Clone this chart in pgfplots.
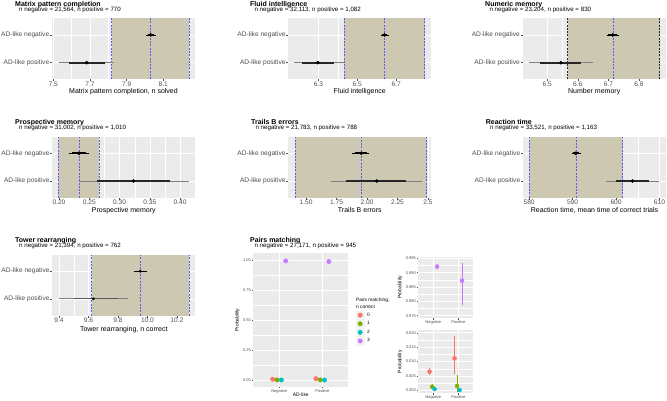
\documentclass[border=0pt]{standalone}
\usepackage{fontspec}
\setmainfont{Liberation Sans}
\usepackage{pgfplots}
\pgfplotsset{compat=1.18}
\definecolor{panelbg}{HTML}{EBEBEB}
\definecolor{tanc}{HTML}{CDC8B1}
\definecolor{dashblue}{HTML}{5B5BF5}
\definecolor{tickgrey}{HTML}{4D4D4D}
\definecolor{c0}{HTML}{F8766D}
\definecolor{c1}{HTML}{7CAE00}
\definecolor{c2}{HTML}{00BFC4}
\definecolor{c3}{HTML}{C77CFF}
\definecolor{legkey}{HTML}{F2F2F2}

\pgfplotsset{
 gg/.style={
   scale only axis,
   axis background/.style={fill=panelbg},
   axis line style={draw=none},
   tick pos=left, tick align=outside,
   major tick length=2pt, minor tick length=0pt,
   tick style={tickgrey, line width=0.4pt},
   grid=both,
   major grid style={draw=white, line width=0.6pt},
   minor grid style={draw=white, line width=0.3pt},
   clip=true,
   scaled ticks=false,
 },
 forest/.style={gg,
   width=143pt, height=61pt,
   ymin=0.4, ymax=2.6, ytick={1,2},
   yticklabels={AD-like positive,AD-like negative},
   minor x tick num=1,
   tick label style={font=\fontsize{6.6}{7}\selectfont, text=tickgrey},
   xticklabel style={inner sep=0.4pt},
   yticklabel style={inner sep=0.6pt},
   xlabel style={font=\fontsize{7}{8}\selectfont, at={(axis description cs:0.5,-0.205)}, anchor=center},
 },
 band/.style={fill=tanc, draw=none},
 vl/.style={dashblue, line width=0.6pt, dash pattern=on 2pt off 1.3pt},
 vlk/.style={black!85, line width=0.6pt, dash pattern=on 2pt off 1.3pt},
 thinp/.style={black!50, line width=0.8pt},
 thickp/.style={black!85, line width=1.7pt},
 thinn/.style={black, line width=0.8pt},
 thickn/.style={black, line width=1.7pt},
 dot/.style={only marks, mark=*, mark size=1.6pt, black},
 pairs/.style={gg,
   xmin=0.4, xmax=2.6, xtick={1,2}, xticklabels={Negative,Positive},
   minor y tick num=1, major tick length=1.5pt,
   tick label style={font=\fontsize{4}{4.5}\selectfont, text=tickgrey},
   xticklabel style={inner sep=0.8pt},
   yticklabel style={inner sep=0.8pt},
   label style={font=\fontsize{4.9}{5.5}\selectfont},
 },
}
\newcommand\ttl[3]{\node[anchor=base west, inner sep=0pt, font=\bfseries\fontsize{7}{8}\selectfont] at (#1pt,-#2pt) {#3};}
\newcommand\sub[3]{\node[anchor=base west, inner sep=0pt, font=\fontsize{6.2}{7}\selectfont] at (#1pt,-#2pt) {#3};}

\begin{document}
\begin{tikzpicture}
\useasboundingbox (0,0) rectangle (667pt,-400pt);

% ---------------- Panel 1: Matrix pattern completion
\ttl{15}{6.0}{Matrix pattern completion}
\sub{19}{11.3}{n negative = 21,564, n positive = 770}
\begin{axis}[forest, at={(52pt,-18.3pt)}, anchor=north west,
  xmin=7.493, xmax=8.273, xtick={7.5,7.7,7.9,8.1}, xticklabels={7.5,7.7,7.9,8.1},
  xlabel={Matrix pattern completion, n solved}]
\addplot[band] coordinates {(7.819,2.6) (8.240,2.6)} \closedcycle;
\addplot[vl] coordinates {(7.819,0.4) (7.819,2.6)};
\addplot[vl] coordinates {(8.031,0.4) (8.031,2.6)};
\addplot[vl] coordinates {(8.240,0.4) (8.240,2.6)};
\addplot[thinn] coordinates {(8.005,2) (8.060,2)};
\addplot[thickn] coordinates {(8.015,2) (8.049,2)};
\addplot[thinp] coordinates {(7.531,1) (7.833,1)};
\addplot[thickp] coordinates {(7.586,1) (7.782,1)};
\addplot[dot] coordinates {(8.031,2) (7.682,1)};
\end{axis}

% ---------------- Panel 2: Fluid intelligence
\ttl{250}{6.0}{Fluid intelligence}
\sub{254.3}{11.3}{n negative = 32,113, n positive = 1,082}
\begin{axis}[forest, at={(288.3pt,-18.3pt)}, anchor=north west,
  xmin=6.145, xmax=6.881, xtick={6.3,6.5,6.7}, xticklabels={6.3,6.5,6.7},
  xlabel={Fluid intelligence}]
\addplot[band] coordinates {(6.433,2.6) (6.846,2.6)} \closedcycle;
\addplot[vl] coordinates {(6.433,0.4) (6.433,2.6)};
\addplot[vl] coordinates {(6.641,0.4) (6.641,2.6)};
\addplot[vl] coordinates {(6.846,0.4) (6.846,2.6)};
\addplot[thinn] coordinates {(6.620,2) (6.663,2)};
\addplot[thickn] coordinates {(6.627,2) (6.655,2)};
\addplot[thinp] coordinates {(6.175,1) (6.430,1)};
\addplot[thickp] coordinates {(6.213,1) (6.378,1)};
\addplot[dot] coordinates {(6.640,2) (6.297,1)};
\end{axis}

% ---------------- Panel 3: Numeric memory
\ttl{485}{6.0}{Numeric memory}
\sub{489.3}{11.3}{n negative = 23,204, n positive = 830}
\begin{axis}[forest, at={(522.7pt,-18.3pt)}, anchor=north west,
  xmin=6.42, xmax=6.887, xtick={6.5,6.6,6.7,6.8}, xticklabels={6.5,6.6,6.7,6.8},
  xlabel={Number memory}]
\addplot[band] coordinates {(6.567,2.6) (6.867,2.6)} \closedcycle;
\addplot[vlk] coordinates {(6.567,0.4) (6.567,2.6)};
\addplot[vl] coordinates {(6.716,0.4) (6.716,2.6)};
\addplot[vlk] coordinates {(6.867,0.4) (6.867,2.6)};
\addplot[thinn] coordinates {(6.694,2) (6.735,2)};
\addplot[thickn] coordinates {(6.700,2) (6.728,2)};
\addplot[thinp] coordinates {(6.441,1) (6.648,1)};
\addplot[thickp] coordinates {(6.476,1) (6.612,1)};
\addplot[dot] coordinates {(6.714,2) (6.545,1)};
\end{axis}

% ---------------- Panel 4: Prospective memory
\ttl{15}{124.4}{Prospective memory}
\sub{19}{129.7}{n negative = 31,002, n positive = 1,010}
\begin{axis}[forest, at={(52.3pt,-136.7pt)}, anchor=north west,
  xmin=0.189, xmax=0.425, xtick={0.20,0.25,0.30,0.35,0.40}, xticklabels={0.20,0.25,0.30,0.35,0.40},
  xlabel={Prospective memory}]
\addplot[band] coordinates {(0.199,2.6) (0.2667,2.6)} \closedcycle;
\addplot[vl] coordinates {(0.199,0.4) (0.199,2.6)};
\addplot[vl] coordinates {(0.233,0.4) (0.233,2.6)};
\addplot[vl] coordinates {(0.2667,0.4) (0.2667,2.6)};
\addplot[thinn] coordinates {(0.216,2) (0.249,2)};
\addplot[thickn] coordinates {(0.222,2) (0.244,2)};
\addplot[thinp] coordinates {(0.233,1) (0.415,1)};
\addplot[thickp] coordinates {(0.262,1) (0.383,1)};
\addplot[dot] coordinates {(0.233,2) (0.323,1)};
\end{axis}

% ---------------- Panel 5: Trails B errors
\ttl{251}{124.4}{Trails B errors}
\sub{255.3}{129.7}{n negative = 21,783, n positive = 788}
\begin{axis}[forest, at={(288.3pt,-136.7pt)}, anchor=north west,
  xmin=1.354, xmax=2.528, xtick={1.5,1.75,2,2.25,2.5}, xticklabels={1.50,1.75,2.00,2.25,2.5},
  xlabel={Trails B errors}]
\addplot[band] coordinates {(1.409,2.6) (2.489,2.6)} \closedcycle;
\addplot[vl] coordinates {(1.409,0.4) (1.409,2.6)};
\addplot[vl] coordinates {(1.953,0.4) (1.953,2.6)};
\addplot[vl] coordinates {(2.489,0.4) (2.489,2.6)};
\addplot[thinn] coordinates {(1.876,2) (2.019,2)};
\addplot[thickn] coordinates {(1.900,2) (2.000,2)};
\addplot[thinp] coordinates {(1.706,1) (2.450,1)};
\addplot[thickp] coordinates {(1.830,1) (2.320,1)};
\addplot[dot] coordinates {(1.953,2) (2.080,1)};
\end{axis}

% ---------------- Panel 6: Reaction time
\ttl{485.7}{124.4}{Reaction time}
\sub{490}{129.7}{n negative = 33,521, n positive = 1,163}
\begin{axis}[forest, at={(523pt,-136.7pt)}, anchor=north west,
  xmin=578.6, xmax=611.5, xtick={580,590,600,610}, xticklabels={580,590,600,610},
  xlabel={Reaction time, mean time of correct trials}]
\addplot[band] coordinates {(580.0,2.6) (601.5,2.6)} \closedcycle;
\addplot[vl] coordinates {(580.0,0.4) (580.0,2.6)};
\addplot[vl] coordinates {(590.8,0.4) (590.8,2.6)};
\addplot[vl] coordinates {(601.5,0.4) (601.5,2.6)};
\addplot[thinn] coordinates {(589.8,2) (591.9,2)};
\addplot[thickn] coordinates {(590.1,2) (591.4,2)};
\addplot[thinp] coordinates {(597.7,1) (610.0,1)};
\addplot[thickp] coordinates {(600.0,1) (607.7,1)};
\addplot[dot] coordinates {(590.7,2) (603.8,1)};
\end{axis}

% ---------------- Panel 7: Tower rearranging
\ttl{15}{242.2}{Tower rearranging}
\sub{19}{247.5}{n negative = 21,394, n positive = 762}
\begin{axis}[forest, at={(52.3pt,-254.5pt)}, anchor=north west,
  xmin=9.354, xmax=10.325, xtick={9.4,9.6,9.8,10,10.2}, xticklabels={9.4,9.6,9.8,10.0,10.2},
  xlabel={Tower rearranging, n correct},
  xlabel style={at={(axis description cs:0.5,-0.225)}}]
\addplot[band] coordinates {(9.622,2.6) (10.284,2.6)} \closedcycle;
\addplot[vl] coordinates {(9.622,0.4) (9.622,2.6)};
\addplot[vl] coordinates {(9.951,0.4) (9.951,2.6)};
\addplot[vl] coordinates {(10.284,0.4) (10.284,2.6)};
\addplot[thinn] coordinates {(9.910,2) (9.997,2)};
\addplot[thickn, line width=1.2pt] coordinates {(9.930,2) (9.975,2)};
\addplot[thinp] coordinates {(9.400,1) (9.871,1)};
\addplot[thickp, line width=1.2pt, black!65] coordinates {(9.500,1) (9.800,1)};
\addplot[dot, mark size=1.2pt] coordinates {(9.951,2) (9.633,1)};
\end{axis}

% ---------------- Panel 8: Pairs matching
\ttl{250}{242.2}{Pairs matching}
\sub{254.3}{247.5}{n negative = 27,171, n positive = 945}
\begin{axis}[pairs, at={(253.3pt,-253.3pt)}, anchor=north west,
  width=95pt, height=133.4pt,
  ymin=-0.0556, ymax=1.0556, ytick={0,0.25,0.5,0.75,1}, yticklabels={0.00,0.25,0.50,0.75,1.00},
  xlabel={AD-like}, ylabel={Probability},
  xlabel style={at={(axis description cs:0.5,-0.062)}, anchor=center},
  ylabel style={at={(axis description cs:-0.168,0.5)}, anchor=center},
  legend cell align=left,
  legend image code/.code={\fill[legkey] (-4.1pt,-4.1pt) rectangle (4.1pt,4.1pt);
     \draw[mark repeat=2,mark phase=2,#1] plot coordinates {(-1pt,0pt) (0pt,0pt) (1pt,0pt)};},
  legend style={at={(1.0795,0.5686)}, anchor=north west, draw=none, fill=none,
     inner sep=0pt, outer sep=0pt, row sep=0pt,
     font=\fontsize{4.8}{5}\selectfont, nodes={inner sep=0pt},
     /tikz/every odd column/.append style={column sep=2.6pt}}]
\addplot[only marks, mark=*, mark size=2.2pt, c0] coordinates {(0.85,0.0065) (1.85,0.0111)};
\addlegendentry{0}
\addplot[only marks, mark=*, mark size=2.2pt, c1] coordinates {(0.95,0.00125) (1.95,0.0015)};
\addlegendentry{1}
\addplot[only marks, mark=*, mark size=2.2pt, c2] coordinates {(1.05,0.00045) (2.05,0.0001)};
\addlegendentry{2}
\addplot[only marks, mark=*, mark size=2.2pt, c3] coordinates {(1.15,0.9921) (2.15,0.9872)};
\addlegendentry{3}
\end{axis}
\node[anchor=west, inner sep=0pt, font=\fontsize{4.8}{5}\selectfont] at (356pt,-300.7pt) {Pairs matching,};
\node[anchor=west, inner sep=0pt, font=\fontsize{4.8}{5}\selectfont] at (356pt,-307.3pt) {n correct};

% small top panel
\begin{axis}[pairs, at={(418.3pt,-256.7pt)}, anchor=north west,
  width=55pt, height=61.6pt,
  ymin=0.97409, ymax=0.99556, ytick={0.975,0.98,0.985,0.99,0.995},
  yticklabels={0.975,0.980,0.985,0.990,0.995},
  ylabel={Probability},
  ylabel style={at={(axis description cs:-0.333,0.5)}, anchor=center}]
\addplot[only marks, mark=*, mark size=2pt, c3,
  error bars/.cd, y dir=both, y explicit,
  error bar style={c3, line width=0.5pt}, error mark options={c3, mark size=1.2pt, line width=0.5pt}]
  coordinates {(1.15,0.9921) += (0,0.0005) -= (0,0.0005) (2.15,0.9872) += (0,0.0058) -= (0,0.0082)};
\end{axis}

% small bottom panel
\begin{axis}[pairs, at={(418.3pt,-330pt)}, anchor=north west,
  width=55pt, height=63.3pt,
  ymin=-0.00104, ymax=0.02094, ytick={0,0.005,0.01,0.015,0.02},
  yticklabels={0.000,0.005,0.010,0.015,0.020},
  ylabel={Probability},
  ylabel style={at={(axis description cs:-0.333,0.5)}, anchor=center}]
\addplot[only marks, mark=*, mark size=2pt, c0,
  error bars/.cd, y dir=both, y explicit,
  error bar style={c0, line width=0.5pt}, error mark options={c0, mark size=1.2pt, line width=0.5pt}]
  coordinates {(0.85,0.0065) += (0,0.0007) -= (0,0.0007) (1.85,0.0111) += (0,0.0073) -= (0,0.0051)};
\addplot[only marks, mark=*, mark size=2pt, c1,
  error bars/.cd, y dir=both, y explicit,
  error bar style={c1, line width=0.5pt}, error mark options={c1, mark size=1.2pt, line width=0.5pt}]
  coordinates {(0.95,0.00125) += (0,0.0004) -= (0,0.0004) (1.95,0.0015) += (0,0.0035) -= (0,0.0015)};
\addplot[only marks, mark=*, mark size=2pt, c2,
  error bars/.cd, y dir=both, y explicit,
  error bar style={c2, line width=0.5pt}, error mark options={c2, mark size=1.2pt, line width=0.5pt}]
  coordinates {(1.05,0.00045) += (0,0.00025) -= (0,0.00025) (2.05,0.0001) += (0,0.0002) -= (0,0.0001)};
\end{axis}
\end{tikzpicture}
\end{document}
